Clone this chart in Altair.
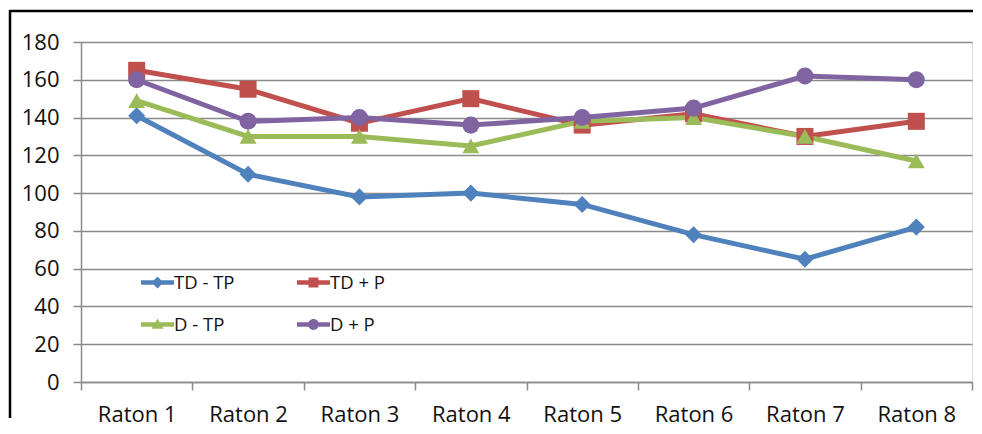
import altair as alt
import pandas as pd

categories = ["Raton 1", "Raton 2", "Raton 3", "Raton 4", "Raton 5", "Raton 6", "Raton 7", "Raton 8"]
series_names = ["TD - TP", "TD + P", "D - TP", "D + P"]
td_tp = [141, 110, 98, 100, 94, 78, 65, 82]
td_p = [165, 155, 137, 150, 136, 142, 130, 138]
d_tp = [149, 130, 130, 125, 138, 140, 130, 117]
d_p = [160, 138, 140, 136, 140, 145, 162, 160]
colors = ["#4F81BD", "#C0504D", "#9BBB59", "#8064A2"]
y_ticks = [0, 20, 40, 60, 80, 100, 120, 140, 160, 180]

rows = []
for name, vals in zip(series_names, [td_tp, td_p, d_tp, d_p]):
    for i, (c, v) in enumerate(zip(categories, vals)):
        rows.append({"cat": c, "val": v, "series": name, "order": i})
df = pd.DataFrame(rows)

FONT = "Open Sans"
GRAY = "#8a8a8a"

x_enc = alt.X("cat:N", sort=categories,
              scale=alt.Scale(type="band", paddingInner=0, paddingOuter=0),
              axis=alt.Axis(title=None, labelAngle=0, labelFontSize=22, labelFont=FONT,
                            labelColor="#111", tickBand="extent", tickSize=8, tickColor=GRAY,
                            tickWidth=1.5, domainColor=GRAY, domainWidth=1.5, grid=False,
                            labelPadding=14))
y_enc = alt.Y("val:Q", scale=alt.Scale(domain=[0, 180], nice=False),
              axis=alt.Axis(title=None, values=y_ticks, labelFontSize=22, labelFont=FONT,
                            labelColor="#111", tickSize=8, tickColor=GRAY, tickWidth=1.5,
                            domainColor=GRAY, domainWidth=1.5, grid=True, gridColor=GRAY,
                            gridWidth=1.5, labelPadding=14))
color_scale = alt.Scale(domain=series_names, range=colors)

lines = alt.Chart(df).mark_line(strokeWidth=5).encode(
    x=x_enc, y=y_enc,
    color=alt.Color("series:N", scale=color_scale, legend=None),
    order="order:Q",
)

points = alt.Chart(df).mark_point(filled=True, opacity=1, size=290).encode(
    x=x_enc, y=y_enc,
    color=alt.Color("series:N", scale=color_scale, legend=None),
    shape=alt.Shape("series:N", scale=alt.Scale(domain=series_names,
                    range=["diamond", "square", "triangle-up", "circle"]), legend=None),
)

# legend laid out column-major: order entries so rows read TD - TP, TD + P / D - TP, D + P
legend_order = ["TD - TP", "D - TP", "TD + P", "D + P"]
legend_colors = ["#4F81BD", "#9BBB59", "#C0504D", "#8064A2"]
legend_paths = [
    "M-1,-0.13H1V0.13H-1Z M0,-0.36L0.36,0L0,0.36L-0.36,0Z",
    "M-1,-0.13H1V0.13H-1Z M0,-0.36L0.36,0.26L-0.36,0.26Z",
    "M-1,-0.13H1V0.13H-1Z M-0.3,-0.3H0.3V0.3H-0.3Z",
    "M-1,-0.13H1V0.13H-1Z M0.33,0A0.33,0.33,0,1,1,-0.33,0A0.33,0.33,0,1,1,0.33,0Z",
]

leg = alt.Legend(title=None, orient="none", legendX=60, legendY=224,
                 columns=2, symbolSize=1089, labelFontSize=18.5,
                 labelFont=FONT, labelColor="#111", labelOffset=0,
                 rowPadding=16, columnPadding=62, symbolStrokeWidth=0,
                 symbolOpacity=1)

legend_layer = alt.Chart(df).transform_calculate(leg="datum.series").mark_point(
    filled=True, opacity=0, size=10).encode(
    x=x_enc, y=y_enc,
    shape=alt.Shape("leg:N", scale=alt.Scale(domain=legend_order, range=legend_paths),
                    sort=legend_order, legend=leg),
    fill=alt.Fill("leg:N", scale=alt.Scale(domain=legend_order, range=legend_colors),
                  sort=legend_order, legend=leg),
)

frame_top = alt.Chart(alt.Data(values=[{"a": 1}])).mark_rule(
    color="black", strokeWidth=2.5, clip=False).encode(
    x=alt.value(-71), x2=alt.value(892), y=alt.value(-31), y2=alt.value(-31))
frame_left = alt.Chart(alt.Data(values=[{"a": 1}])).mark_rule(
    color="black", strokeWidth=2.5, clip=False).encode(
    x=alt.value(-71), x2=alt.value(-71), y=alt.value(-32), y2=alt.value(376))

chart = alt.layer(frame_top, frame_left, lines, points, legend_layer).resolve_scale(
    shape="independent", fill="independent").properties(
    width=891, height=340, autosize="none",
    padding={"left": 73, "top": 34, "right": 2, "bottom": 44},
).configure_view(stroke=None).configure(background="white")

chart.save("out.html", embed_options={"renderer": "svg", "actions": False})
